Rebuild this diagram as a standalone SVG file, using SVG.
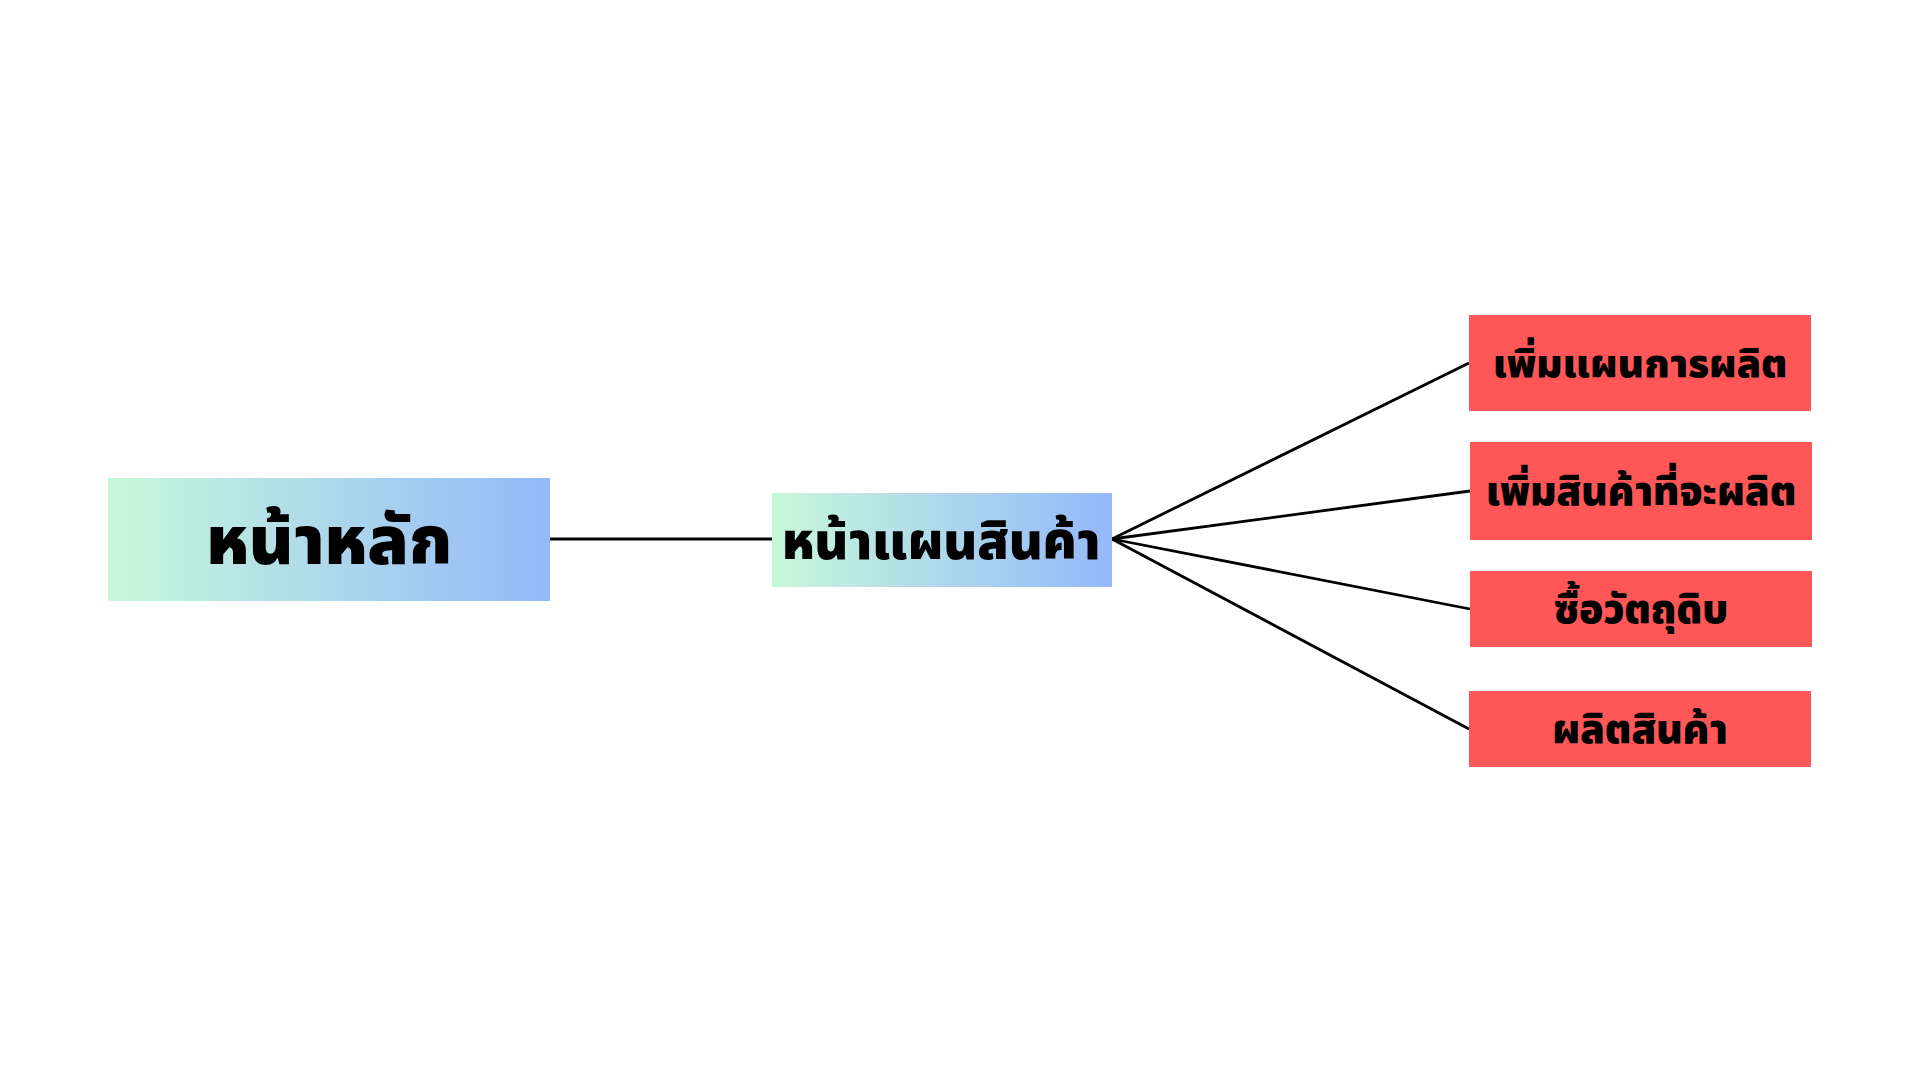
<svg xmlns="http://www.w3.org/2000/svg" width="1920" height="1080" viewBox="0 0 1920 1080">
<style>
.lbl{font-family:"Noto Sans Thai","Noto Sans","DejaVu Sans",sans-serif;font-weight:900;fill:#000;text-anchor:middle;dominant-baseline:central}
.red{fill:#ff5757}
.edge{stroke:#000;stroke-width:2.8;fill:none}
</style>
<defs>
<linearGradient id="g" x1="0" y1="0" x2="1" y2="0">
<stop offset="0" stop-color="#c8f8da"/>
<stop offset="1" stop-color="#94b8fb"/>
</linearGradient>
</defs>
<rect width="1920" height="1080" fill="#fff"/>
<g id="connectors">
<line class="edge" x1="550" y1="539" x2="772" y2="539"/>
<line class="edge" x1="1112" y1="539" x2="1469" y2="363"/>
<line class="edge" x1="1112" y1="539" x2="1470" y2="491"/>
<line class="edge" x1="1112" y1="539" x2="1470" y2="609"/>
<line class="edge" x1="1112" y1="539" x2="1469" y2="729"/>
</g>
<g id="home">
<rect x="108" y="478" width="442" height="123" fill="url(#g)"/>
<text class="lbl" x="329" y="543" font-size="67">หน้าหลัก</text>
</g>
<g id="plan">
<rect x="772" y="493" width="340" height="94" fill="url(#g)"/>
<text class="lbl" x="941" y="543" font-size="51">หน้าแผนสินค้า</text>
</g>
<g id="n1">
<rect class="red" x="1469" y="315" width="342" height="96"/>
<text class="lbl" x="1640" y="365" font-size="39.5">เพิ่มแผนการผลิต</text>
</g>
<g id="n2">
<rect class="red" x="1470" y="442" width="342" height="98"/>
<text class="lbl" x="1641" y="493" font-size="40">เพิ่มสินค้าที่จะผลิต</text>
</g>
<g id="n3">
<rect class="red" x="1470" y="571" width="342" height="76"/>
<text class="lbl" x="1641" y="611" font-size="40">ซื้อวัตถุดิบ</text>
</g>
<g id="n4">
<rect class="red" x="1469" y="691" width="342" height="76"/>
<text class="lbl" x="1640" y="731" font-size="40">ผลิตสินค้า</text>
</g>
</svg>
